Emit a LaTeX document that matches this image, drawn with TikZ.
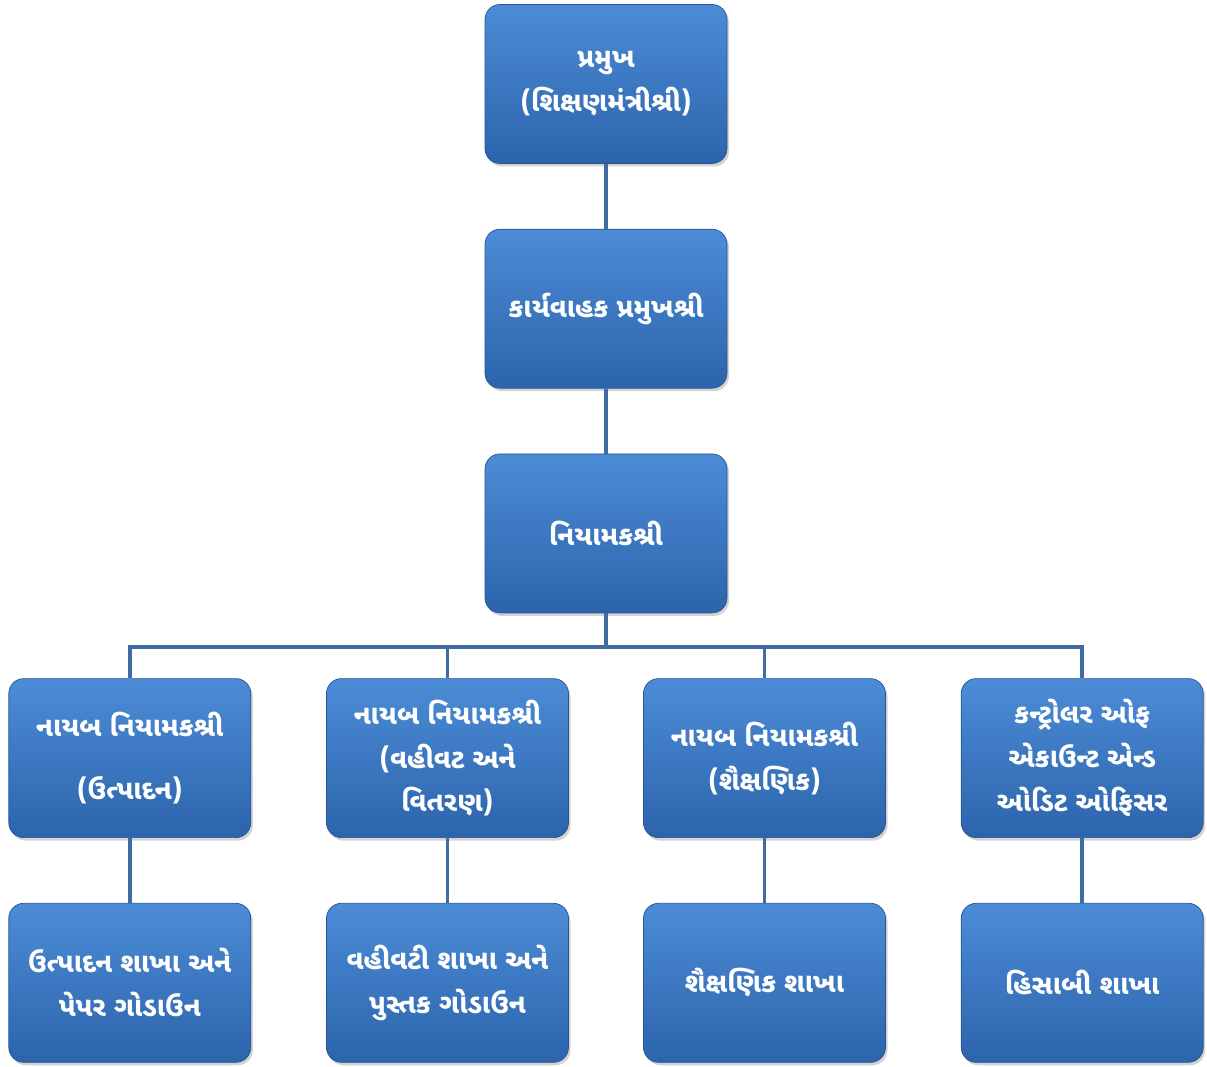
\documentclass[tikz,border=0pt]{standalone}
\usepackage{fontspec}
\newfontfamily\gujfont[Script=Gujarati]{Noto Sans Gujarati UI}
\usetikzlibrary{positioning,shadows}
\definecolor{boxtop}{RGB}{76,140,214}
\definecolor{boxbot}{RGB}{44,100,172}
\definecolor{linecol}{RGB}{64,108,162}

\begin{document}
\begin{tikzpicture}[node distance=1.3cm, line width=2.2pt, draw=linecol,
  box/.style={rectangle, rounded corners=0.3cm, minimum width=4.84cm, minimum height=3.18cm,
    top color=boxtop, bottom color=boxbot, draw=boxbot!85!black, thin, text=white, align=center,
    font=\gujfont\bfseries\fontsize{15.5}{25}\selectfont,
    drop shadow={shadow xshift=0.04cm, shadow yshift=-0.06cm, opacity=0.35}}]
\useasboundingbox (-12.12,1.68) rectangle (12.02,-19.66);

\node[box] (P) {પ્રમુખ\\(શિક્ષણમંત્રીશ્રી)};
\node[box] (K) [below=of P] {કાર્યવાહક પ્રમુખશ્રી};
\node[box] (N) [below=of K] {નિયામકશ્રી};
\node[box] (B) [below=of N, xshift=-3.17cm] {નાયબ નિયામકશ્રી\\(વહીવટ અને\\વિતરણ)};
\node[box] (C) [below=of N, xshift=3.17cm] {નાયબ નિયામકશ્રી\\(શૈક્ષણિક)};
\node[box] (A) [left=1.5cm of B] {નાયબ નિયામકશ્રી\\[11pt](ઉત્પાદન)};
\node[box] (D) [right=1.5cm of C] {કન્ટ્રોલર ઓફ\\એકાઉન્ટ એન્ડ\\ઓડિટ ઓફિસર};
\node[box] (A2) [below=of A] {ઉત્પાદન શાખા અને\\પેપર ગોડાઉન};
\node[box] (B2) [below=of B] {વહીવટી શાખા અને\\પુસ્તક ગોડાઉન};
\node[box] (C2) [below=of C] {શૈક્ષણિક શાખા};
\node[box] (D2) [below=of D] {હિસાબી શાખા};

\draw (P) -- (K);
\draw (K) -- (N);
\foreach \x in {A,B,C,D} {
  \draw (N.south) -- ++(0,-0.68) -| (\x.north);
  \draw (\x) -- (\x2);
}
\end{tikzpicture}
\end{document}
